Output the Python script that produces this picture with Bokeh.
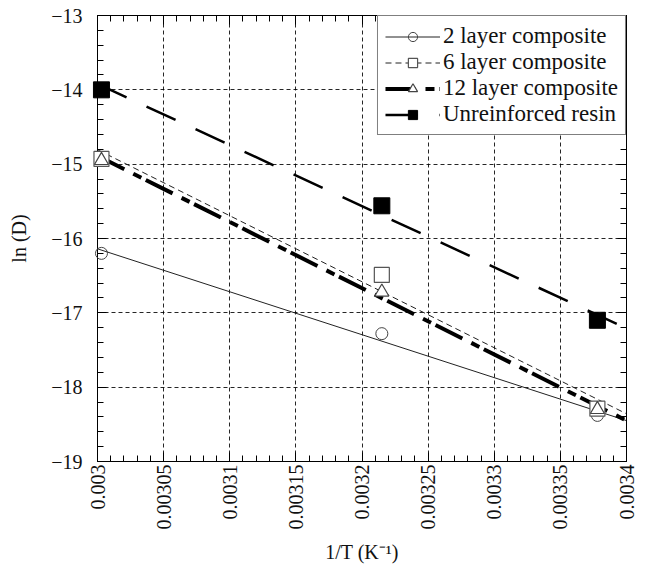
import numpy as np
from bokeh.plotting import figure
from bokeh.models import (Range1d, FixedTicker, LinearAxis,
                          CustomJSTickFormatter, Legend, LegendItem)
from bokeh.embed import file_html
from bokeh.resources import INLINE

# ---- data ----
inv_T = [0.003003, 0.003215, 0.003378]
lnD_2layer = [-16.2, -17.28, -18.38]
lnD_6layer = [-14.93, -16.49, -18.29]
lnD_12layer = [-14.95, -16.72, -18.30]
lnD_resin = [-14.0, -15.56, -17.10]
series_names = ["2 layer composite", "6 layer composite", "12 layer composite", "Unreinforced resin"]
x_ticks = [0.003, 0.00305, 0.0031, 0.00315, 0.0032, 0.00325, 0.0033, 0.00335, 0.0034]
y_ticks = [-19, -18, -17, -16, -15, -14, -13]
x_limits = [0.003, 0.0034]
y_limits = [-19, -13]

FONT = "Liberation Serif"

x_minor = [round(0.003 + i * 0.00001, 6) for i in range(41)]
y_minor = [round(-19 + i * 0.2, 2) for i in range(31)]

p = figure(width=637, height=565, output_backend="svg", toolbar_location=None,
           x_range=Range1d(*x_limits), y_range=Range1d(*y_limits),
           min_border_left=97, min_border_right=11, min_border_top=15, min_border_bottom=90,
           x_axis_label="1/T (K\u207b\u00b9)", y_axis_label="ln (D)")
p.background_fill_color = "white"
p.border_fill_color = "white"
p.outline_line_color = "black"
p.outline_line_width = 1

xt = FixedTicker(ticks=x_ticks, minor_ticks=x_minor)
yt = FixedTicker(ticks=y_ticks, minor_ticks=y_minor)
xfmt = CustomJSTickFormatter(code="return String(Number(tick.toFixed(6)));")
yfmt = CustomJSTickFormatter(code="return (tick < 0 ? '\\u2212' : '') + Math.abs(Math.round(tick)).toString();")

for ax in p.xaxis:
    ax.ticker = xt
    ax.formatter = xfmt
    ax.major_label_orientation = np.pi / 2
    ax.major_label_standoff = 3
    ax.axis_label_standoff = 8
for ax in p.yaxis:
    ax.ticker = yt
    ax.formatter = yfmt
    ax.major_label_standoff = 15
    ax.axis_label_standoff = 18

for ax in list(p.xaxis) + list(p.yaxis):
    ax.major_tick_in = 9
    ax.major_tick_out = 0
    ax.minor_tick_in = 6
    ax.minor_tick_out = 0
    ax.major_label_text_font = FONT
    ax.major_label_text_font_size = "20px"
    ax.major_label_text_color = "#111111"
    ax.axis_label_text_font = FONT
    ax.axis_label_text_font_size = "20px"
    ax.axis_label_text_font_style = "normal"
    ax.axis_label_text_color = "#111111"
    ax.axis_line_color = "black"
    ax.major_tick_line_color = "black"
    ax.minor_tick_line_color = "black"

# mirrored axes (ticks only)
blank = CustomJSTickFormatter(code="return '';")
for loc, tk in (("above", xt), ("right", yt)):
    a = LinearAxis(ticker=tk, formatter=blank, major_label_standoff=0,
                   major_label_text_font_size="1px",
                   major_tick_in=9, major_tick_out=0, minor_tick_in=6, minor_tick_out=0,
                   axis_line_color="black")
    p.add_layout(a, loc)

p.grid.grid_line_color = "black"
p.grid.grid_line_dash = "4 3"
p.grid.grid_line_width = 1
p.grid.grid_line_alpha = 0.85

xs = np.array(inv_T)
x_line = np.array(x_limits)

styles = [
    dict(data=lnD_2layer, line=dict(line_color="#222222", line_width=1, line_dash="solid"),
         marker=dict(marker="circle", size=12, line_color="#444444", fill_color=None, line_width=1)),
    dict(data=lnD_6layer, line=dict(line_color="#222222", line_width=1, line_dash="6 4"),
         marker=dict(marker="square", size=15, line_color="#555555", fill_color="white", line_width=1.2)),
    dict(data=lnD_12layer, line=dict(line_color="black", line_width=4, line_dash="30 10 9 5"),
         marker=dict(marker="triangle", size=14, line_color="#444444", fill_color="white", line_width=1.2)),
    dict(data=lnD_resin, line=dict(line_color="black", line_width=2.5, line_dash="32 22"),
         marker=dict(marker="square", size=16, line_color="black", fill_color="black", line_width=1)),
]

items = []
for name, st in zip(series_names, styles):
    ys = np.array(st["data"])
    k, b = np.polyfit(xs, ys, 1)
    lr = p.line(x_line, k * x_line + b, **st["line"])
    sr = p.scatter(xs, ys, level="overlay", **st["marker"])
    items.append(LegendItem(label=name, renderers=[lr, sr]))

legend = Legend(items=items, location="top_right")
legend.label_text_font = FONT
legend.label_text_font_size = "23px"
legend.label_text_color = "#111111"
legend.label_height = 23
legend.glyph_height = 23
legend.glyph_width = 55
legend.label_standoff = 3
legend.spacing = 0
legend.padding = 7
legend.margin = 0
legend.border_line_color = "black"
legend.border_line_width = 1
legend.background_fill_color = "white"
legend.background_fill_alpha = 1
p.add_layout(legend)

open("out.html", "w").write(file_html(p, INLINE))
